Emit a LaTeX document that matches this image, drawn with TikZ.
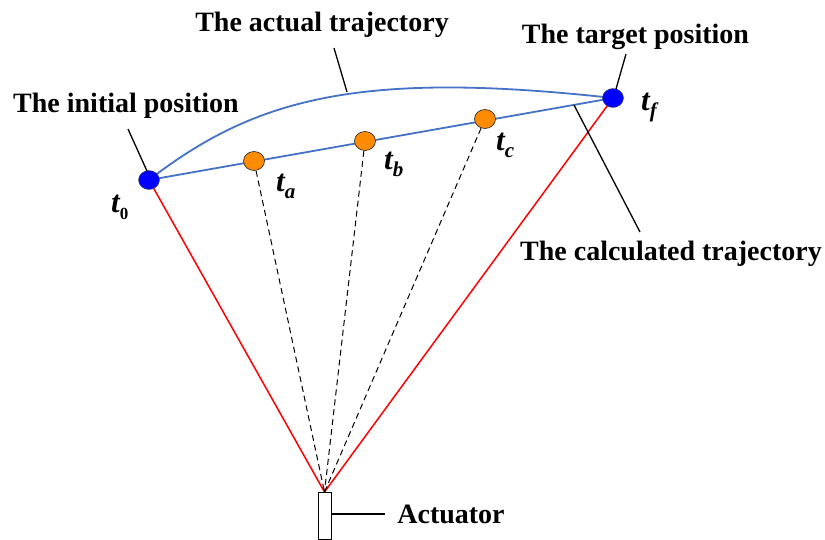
\documentclass[tikz,border=0pt]{standalone}
\usepackage{fontspec}
\setmainfont{Liberation Serif}
\usetikzlibrary{shapes.geometric}
\newcommand{\tsub}[1]{t\raisebox{-7pt}{\fontsize{21}{21}\selectfont #1}}
\begin{document}
\begin{tikzpicture}[x=1pt,y=-1pt,
  lbl/.style={font=\fontsize{28}{30}\selectfont\bfseries, inner sep=0pt, anchor=base},
  tl/.style={font=\fontsize{31}{33}\selectfont\bfseries\itshape, inner sep=0pt, anchor=base west},
  bdot/.style={ellipse,draw=black!70,fill=blue,minimum width=21pt,minimum height=19pt,inner sep=0pt,line width=0.4pt},
  odot/.style={ellipse,draw=black!80,fill=orange!90!yellow,minimum width=21pt,minimum height=19pt,inner sep=0pt,line width=0.7pt},
  traj/.style={draw={rgb,255:red,68;green,114;blue,196},line width=1.8pt},
  redl/.style={draw=red,line width=1.5pt},
  dashl/.style={draw=black,dash pattern=on 6pt off 4pt,line width=1pt},
  leader/.style={draw=black,line width=1.3pt}]
\useasboundingbox (0,0) rectangle (825,539);
% actuator
\node[draw=black,line width=0.9pt,minimum width=13pt,minimum height=47pt,inner sep=0pt,anchor=north] (act) at (324.5,492) {};
\coordinate (top) at (324.5,492);
% dots positions
\coordinate (p0) at (149,180);
\coordinate (pf) at (613,98);
\coordinate (pa) at (254,161);
\coordinate (pb) at (365,141);
\coordinate (pc) at (485,119);
% red lines
\draw[redl] (p0) -- (top);
\draw[redl] (pf) -- (top);
% dashed lines
\draw[dashl] (pa) -- (top);
\draw[dashl] (pb) -- (top);
\draw[dashl] (pc) -- (top);
% trajectories
\draw[traj] (p0) -- (pf);
\draw[traj] (p0) .. controls (255,98) and (360,70) .. (pf);
% dots
\node[bdot] (t0) at (p0) {};
\node[bdot] (tf) at (pf) {};
\node[odot] (ta) at (pa) {};
\node[odot] (tb) at (pb) {};
\node[odot] (tc) at (pc) {};
% t labels
\node[tl] (l0) at (111,212) {t\raisebox{-7pt}{\fontsize{17}{17}\selectfont\upshape 0}};
\node[tl] (la) at (276,191) {\tsub{a}};
\node[tl] (lb) at (384,169) {\tsub{b}};
\node[tl] (lc) at (496,150) {\tsub{c}};
\node[tl] (lf) at (641,110) {\tsub{f}};
% text labels
\node[lbl] (init) at (126,112) {The initial position};
\node[lbl] (act2) at (322,31) {The actual trajectory};
\node[lbl] (tgt) at (635.5,43) {The target position};
\node[lbl] (calc) at (671,260) {The calculated trajectory};
\node[lbl] (actl) at (451,523) {Actuator};
% leaders
\coordinate (a1) at (128,129); \coordinate (a2) at (147,171);
\draw[leader] (a1) -- (a2);
\coordinate (b1) at (334,48); \coordinate (b2) at (347,92);
\draw[leader] (b1) -- (b2);
\coordinate (c1) at (626,54); \coordinate (c2) at (616,89);
\draw[leader] (c1) -- (c2);
\coordinate (d1) at (640,232); \coordinate (d2) at (574,105);
\draw[leader] (d1) -- (d2);
\coordinate (e1) at (331,514); \coordinate (e2) at (385,514);
\draw[leader] (e1) -- (e2);
\end{tikzpicture}
\end{document}
